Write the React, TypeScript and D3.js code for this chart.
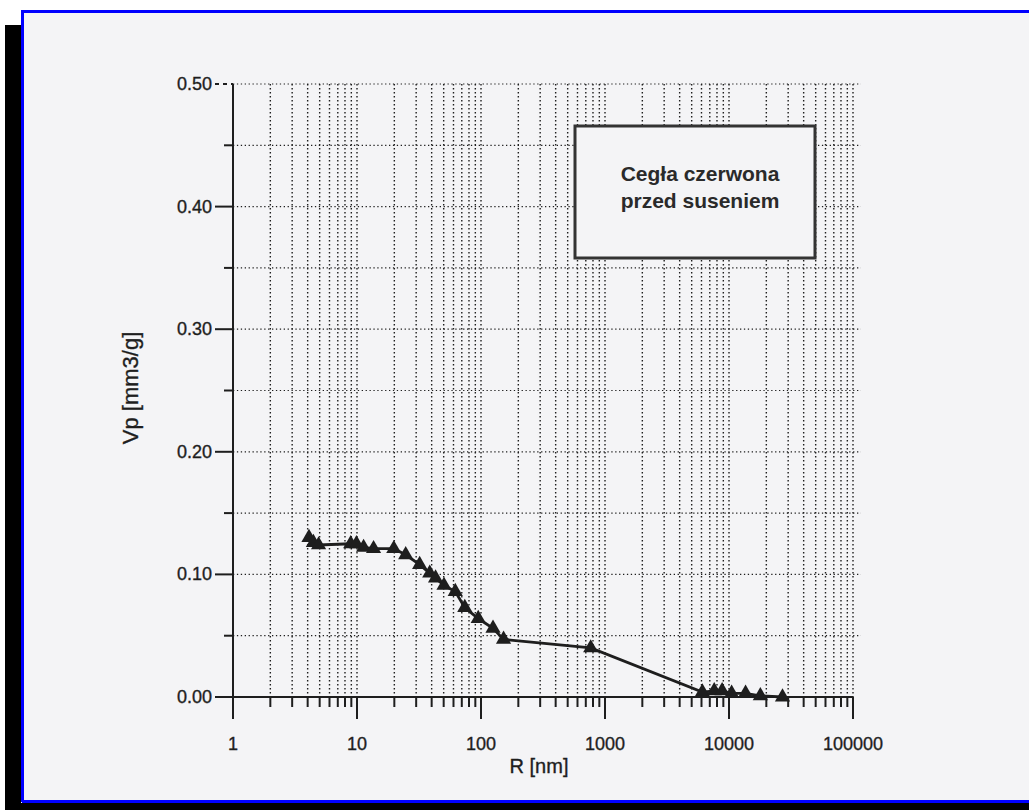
import React from "react";
import * as d3 from "d3";

const R_NM = [4.1, 4.45, 4.9, 8.9, 9.9, 11.3, 13.6, 19.8, 24.7, 32, 38.6, 43, 50.3, 62, 74, 95, 125, 152, 767, 6100, 7600, 8800, 10500, 13600, 17900, 27000];
const VP = [0.130, 0.126, 0.124, 0.125, 0.125, 0.122, 0.121, 0.121, 0.116, 0.108, 0.101, 0.097, 0.091, 0.086, 0.073, 0.064, 0.056, 0.047, 0.040, 0.004, 0.005, 0.005, 0.003, 0.003, 0.001, 0.000];
const X_TICKS = [1, 10, 100, 1000, 10000, 100000];
const Y_TICKS = [0, 0.1, 0.2, 0.3, 0.4, 0.5];
const Y_MINOR = [0.05, 0.15, 0.25, 0.35, 0.45];
const LEGEND_LINES = ["Cegła czerwona", "przed suseniem"];
const X_TITLE = "R [nm]";
const Y_TITLE = "Vp [mm3/g]";

const W = 1029;
const H = 810;
const FONT = "'Liberation Sans', Arial, Helvetica, sans-serif";

export default function App() {
  const x = d3.scaleLog().domain([1, 100000]).range([233, 853]);
  const y = d3.scaleLinear().domain([0, 0.5]).range([697, 84]);

  const minor: number[] = [];
  for (let d = 1; d < 100000; d *= 10) {
    for (let k = 2; k <= 9; k++) minor.push(d * k);
  }
  const allV = [...minor, ...X_TICKS.slice(1)];

  const line = d3
    .line<number>()
    .x((_, i) => x(R_NM[i]))
    .y((v) => y(v));

  const tri = d3.symbol().type(d3.symbolTriangle).size(100)();

  const ink = "#1e1e1e";
  const textStroke = { stroke: ink, strokeWidth: 0.35 };

  return (
    <div style={{ position: "absolute", left: 0, top: 0 }}>
      <svg width={W} height={H} style={{ display: "block", background: "#ffffff" }}>
        {/* scan frame */}
        <rect x={22} y={10} width={W - 22} height={792} fill="#f4f4f6" />
        <rect x={5} y={25} width={16} height={H - 25} fill="#000" />
        <rect x={5} y={803} width={W - 5} height={7} fill="#000" />
        <path d={`M22.5,${H - 8} V11.5 H${W}`} fill="none" stroke="#0000ff" strokeWidth={3} />
        <line x1={22} x2={W} y1={801.5} y2={801.5} stroke="#0000ff" strokeWidth={3} />

        {/* vertical dotted grid */}
        {allV.map((v, i) => (
          <line key={"vg" + i} x1={x(v)} x2={x(v)} y1={y(0.5)} y2={y(0)} stroke={ink} strokeWidth={1.4} strokeDasharray="1.4 2.6" />
        ))}
        {/* horizontal dotted grid */}
        {[...Y_TICKS.slice(1), ...Y_MINOR].map((v, i) => (
          <line key={"hg" + i} x1={x(1)} x2={x(100000) + 8} y1={y(v)} y2={y(v)} stroke={ink} strokeWidth={1.2} strokeDasharray="1.3 2.6" />
        ))}

        {/* legend box */}
        <rect x={575} y={126} width={240} height={132} fill="#f4f4f6" stroke="#333" strokeWidth={3} />
        {LEGEND_LINES.map((t, i) => (
          <text key={t} x={700} y={181 + i * 27} textAnchor="middle" fontFamily={FONT} fontWeight="bold" fontSize={21} fill="#2a2a2a">
            {t}
          </text>
        ))}

        {/* axes */}
        <line x1={x(1)} x2={x(1)} y1={y(0.5)} y2={y(0) + 21} stroke={ink} strokeWidth={2} />
        <line x1={x(1)} x2={x(100000)} y1={y(0)} y2={y(0)} stroke={ink} strokeWidth={2} />
        {minor.map((v, i) => (
          <line key={"xm" + i} x1={x(v)} x2={x(v)} y1={y(0)} y2={y(0) + 10} stroke={ink} strokeWidth={2} />
        ))}
        {X_TICKS.map((v) => (
          <g key={"xt" + v}>
            <line x1={x(v)} x2={x(v)} y1={y(0)} y2={y(0) + 22} stroke={ink} strokeWidth={2} />
            <text x={x(v)} y={750} textAnchor="middle" fontFamily={FONT} fontSize={18} fill={ink} {...textStroke}>
              {String(v)}
            </text>
          </g>
        ))}
        {Y_TICKS.map((v) => (
          <g key={"yt" + v}>
            <line x1={x(1) - 18} x2={x(1)} y1={y(v)} y2={y(v)} stroke={ink} strokeWidth={2} strokeDasharray={v === 0.5 ? "4 4" : undefined} />
            <text x={212} y={y(v) + 6} textAnchor="end" fontFamily={FONT} fontSize={18} fill={ink} {...textStroke}>
              {v.toFixed(2)}
            </text>
          </g>
        ))}
        {Y_MINOR.map((v) => (
          <line key={"ym" + v} x1={x(1) - 9} x2={x(1)} y1={y(v)} y2={y(v)} stroke={ink} strokeWidth={2} />
        ))}

        {/* axis titles */}
        <text x={539} y={773} textAnchor="middle" fontFamily={FONT} fontSize={20} fill={ink} {...textStroke}>
          {X_TITLE}
        </text>
        <text transform="translate(138,388) rotate(-90)" textAnchor="middle" fontFamily={FONT} fontSize={22} fill={ink} {...textStroke}>
          {Y_TITLE}
        </text>

        {/* data */}
        <path d={line(VP) || ""} fill="none" stroke={ink} strokeWidth={2.8} />
        {VP.map((v, i) => (
          <path key={"p" + i} d={tri || ""} transform={`translate(${x(R_NM[i])},${y(v)})`} fill={ink} />
        ))}
      </svg>
    </div>
  );
}
